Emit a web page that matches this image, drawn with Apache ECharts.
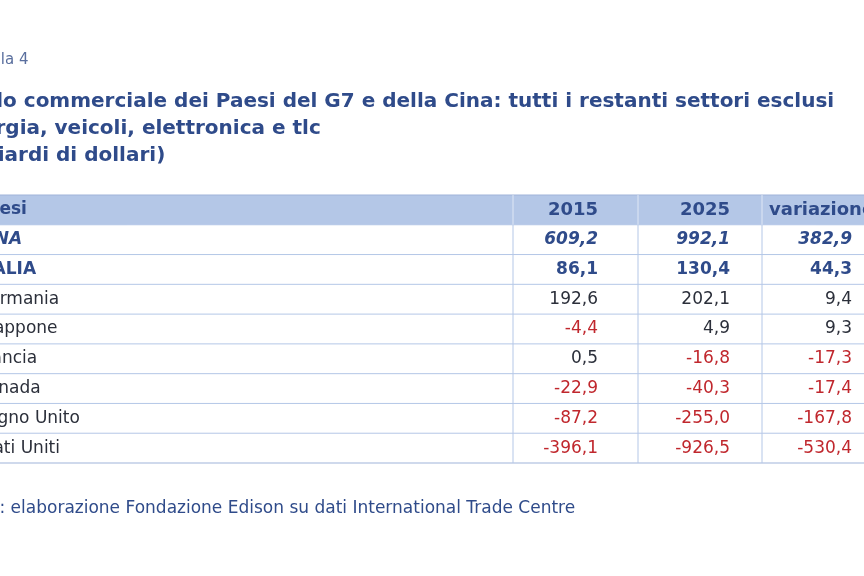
<!DOCTYPE html>
<html>
<head>
<meta charset="utf-8">
<script src="https://cdn.jsdelivr.net/npm/echarts@6/dist/echarts.min.js"></script>
<style>html,body{margin:0;background:#fff}#chart{width:864px;height:576px}</style>
</head>
<body>
<div id="chart"></div>
<script>
var headers = ["Paesi", "2015", "2025", "variazione"];
var countries = ["CINA", "ITALIA", "Germania", "Giappone", "Francia", "Canada", "Regno Unito", "Stati Uniti"];
var v2015 = [609.2, 86.1, 192.6, -4.4, 0.5, -22.9, -87.2, -396.1];
var v2025 = [992.1, 130.4, 202.1, 4.9, -16.8, -40.3, -255.0, -926.5];
var vDiff = [382.9, 44.3, 9.4, 9.3, -17.3, -17.4, -167.8, -530.4];

var BLUE = "#2f4b8a", LINE = "#b4c7e7", RED = "#c0272d", INK = "#2b2f3a";
var FONT = "DejaVu Sans";
var colEdges = [-40, 513, 638, 762, 900];
var textRight = [null, 598, 730, 852];

function fmt(v) { return v.toFixed(1).replace(".", ","); }

var rows = ["header"].concat(countries);
var data = rows.map(function (r, i) { return [0, i]; });

function renderItem(params, api) {
  var i = api.value(1);
  var c = api.coord([0, i]);
  var h = api.size([0, 1])[1];
  var top = c[1] - h / 2, mid = c[1];
  var x0 = api.coord([colEdges[0], i])[0], x1 = api.coord([colEdges[4], i])[0];
  var kids = [];
  if (i === 0) {
    kids.push({ type: "rect", shape: { x: x0, y: top, width: x1 - x0, height: h }, style: { fill: LINE } });
    kids.push({ type: "line", shape: { x1: x0, y1: top, x2: x1, y2: top }, style: { stroke: "#9fb3d9", lineWidth: 1 } });
  }
  kids.push({ type: "line", shape: { x1: x0, y1: top + h, x2: x1, y2: top + h }, style: { stroke: i === 8 ? "#9fb3d9" : LINE, lineWidth: 1 } });
  for (var k = 1; k <= 3; k++) {
    var xd = api.coord([colEdges[k], i])[0];
    kids.push({ type: "line", shape: { x1: xd, y1: top, x2: xd, y2: top + h }, style: { stroke: i === 0 ? "#dfe7f5" : LINE, lineWidth: 1 } });
  }
  var bold = i <= 2, italic = i === 1;
  var labelX = api.coord([-24, i])[0];
  var name = i === 0 ? headers[0] : countries[i - 1];
  kids.push({ type: "text", style: { x: labelX, y: mid, text: name, fill: bold ? BLUE : INK,
    font: (italic ? "italic " : "") + (bold ? "bold " : "") + "17px '" + FONT + "'", verticalAlign: "middle" } });
  var vals = i === 0 ? null : [v2015[i - 1], v2025[i - 1], vDiff[i - 1]];
  for (var k = 1; k <= 3; k++) {
    var tx = api.coord([textRight[k], i])[0];
    if (i === 0) {
      var isVar = k === 3;
      kids.push({ type: "text", style: { x: isVar ? api.coord([769, i])[0] : tx, y: mid, text: headers[k], fill: BLUE,
        font: "bold 18px '" + FONT + "'", align: isVar ? "left" : "right", verticalAlign: "middle" } });
    } else {
      var v = vals[k - 1];
      kids.push({ type: "text", style: { x: tx, y: mid, text: fmt(v), fill: v < 0 ? RED : (bold ? BLUE : INK),
        font: (italic ? "italic " : "") + (bold ? "bold " : "") + "17px '" + FONT + "'", align: "right", verticalAlign: "middle" } });
    }
  }
  return { type: "group", children: kids };
}

var myChart = echarts.init(document.getElementById("chart"));
var option = {
  animation: false,
  grid: { left: 0, right: 0, top: 195, bottom: 113 },
  xAxis: { type: "value", min: 0, max: 864, show: false },
  yAxis: { type: "category", data: rows, inverse: true, show: false },
  graphic: [
    { type: "text", left: -38, top: 53, style: { text: "Tabella 4", fill: "#5a6f9e", font: "15px '" + FONT + "'" } },
    { type: "text", left: -46, top: 88, style: { text: "Saldo commerciale dei Paesi del G7 e della Cina: tutti i restanti settori esclusi\nEnergia, veicoli, elettronica e tlc\n(miliardi di dollari)",
      fill: BLUE, font: "bold 20px '" + FONT + "'", lineHeight: 27 } },
    { type: "text", left: -48, top: 500, style: { text: "Fonte: elaborazione Fondazione Edison su dati International Trade Centre", fill: BLUE, font: "17px '" + FONT + "'" } }
  ],
  series: [{ type: "custom", renderItem: renderItem, data: data, clip: false, encode: { x: 0, y: 1 } }]
};
myChart.setOption(option);
</script>
</body>
</html>
